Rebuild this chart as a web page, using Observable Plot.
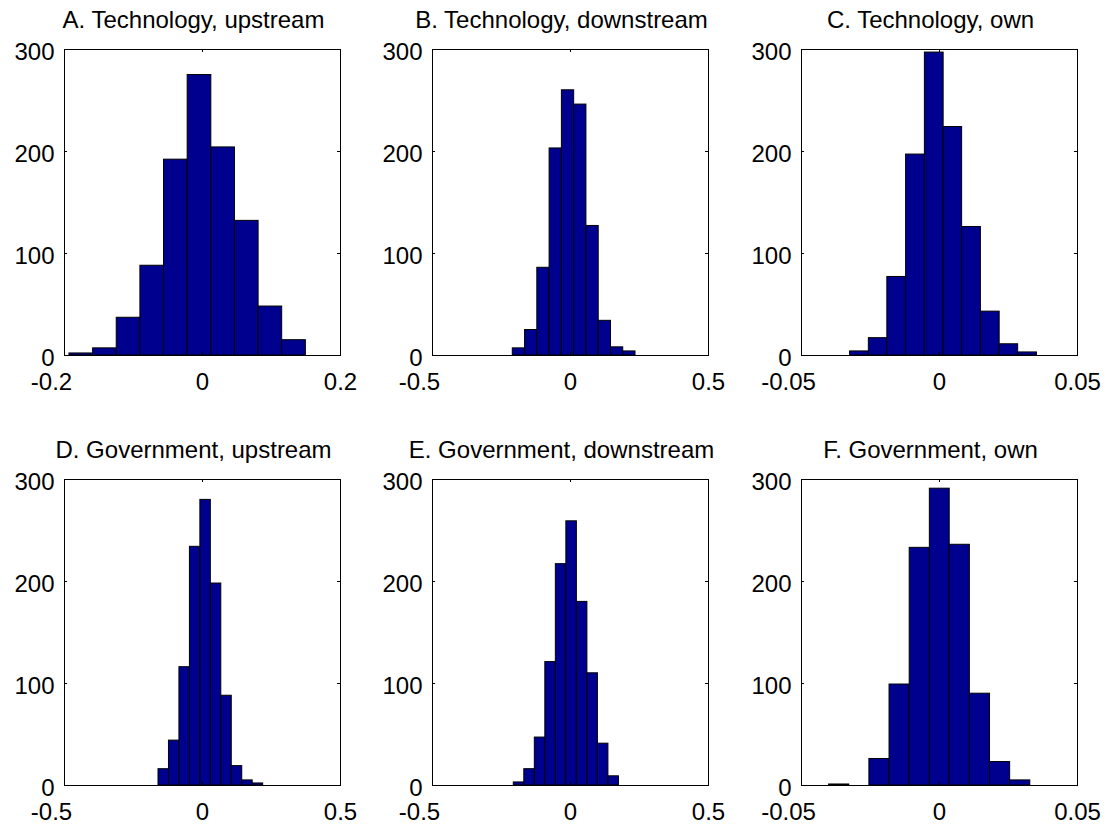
<!DOCTYPE html>
<html><head><meta charset="utf-8">
<script src="https://cdn.jsdelivr.net/npm/d3@7"></script>
<script src="https://cdn.jsdelivr.net/npm/@observablehq/plot@0.6"></script>
<style>
body{margin:0;background:#fff;}
#wrap{position:relative;width:1111px;height:825px;background:#fff;overflow:hidden;}
#wrap svg{position:absolute;}
</style></head><body><div id="wrap"></div>
<script>
// ---- data ----
const titles = [
  "A. Technology, upstream", "B. Technology, downstream", "C. Technology, own",
  "D. Government, upstream", "E. Government, downstream", "F. Government, own"
];
const edgesA = [-0.1928, -0.1585, -0.1243, -0.0900, -0.0558, -0.0215, 0.0128, 0.0470, 0.0813, 0.1155, 0.1498];
const countsA = [2, 7, 37, 88, 192, 275, 204, 132, 48, 15];
const edgesB = [-0.2091, -0.1646, -0.1202, -0.0757, -0.0312, 0.0133, 0.0577, 0.1022, 0.1467, 0.1911, 0.2356];
const countsB = [7, 25, 86, 203, 260, 246, 127, 34, 8, 4];
const edgesC = [-0.0324, -0.0256, -0.0189, -0.0121, -0.0053, 0.0015, 0.0082, 0.0150, 0.0218, 0.0285, 0.0353];
const countsC = [4, 17, 77, 197, 297, 224, 126, 43, 11, 3];
const edgesD = [-0.1594, -0.1215, -0.0836, -0.0456, -0.0077, 0.0302, 0.0681, 0.1060, 0.1440, 0.1819, 0.2198];
const countsD = [16, 44, 116, 234, 280, 198, 88, 19, 5, 2];
const edgesE = [-0.2055, -0.1674, -0.1293, -0.0912, -0.0531, -0.0150, 0.0231, 0.0612, 0.0993, 0.1374, 0.1755];
const countsE = [3, 16, 47, 121, 217, 259, 180, 110, 41, 9];
const edgesF = [-0.0400, -0.0327, -0.0254, -0.0181, -0.0108, -0.0035, 0.0037, 0.0110, 0.0183, 0.0256, 0.0329];
const countsF = [1, 0, 26, 99, 233, 291, 236, 90, 23, 5];
const xTicksWide = [-0.5, 0, 0.5];
const xTicksA = [-0.2, 0, 0.2];
const xTicksOwn = [-0.05, 0, 0.05];
const yTicks = [0, 100, 200, 300];

// ---- layout ----
const W = 370, H = 401, mL = 64, mR = 30, mT = 49, mB = 46;
const FW = W - mL - mR, FH = H - mT - mB;
const panels = [
  {title: titles[0], edges: edgesA, counts: countsA, ticks: xTicksA, left: 0, top: 0},
  {title: titles[1], edges: edgesB, counts: countsB, ticks: xTicksWide, left: 368, top: 0},
  {title: titles[2], edges: edgesC, counts: countsC, ticks: xTicksOwn, left: 737, top: 0},
  {title: titles[3], edges: edgesD, counts: countsD, ticks: xTicksWide, left: 0, top: 430},
  {title: titles[4], edges: edgesE, counts: countsE, ticks: xTicksWide, left: 368, top: 430},
  {title: titles[5], edges: edgesF, counts: countsF, ticks: xTicksOwn, left: 737, top: 430}
];
const FONT = 24;
const fmt = d => String(d);
const wrap = document.getElementById("wrap");

for (const p of panels) {
  const bins = p.counts.map((c, i) => ({x1: p.edges[i], x2: p.edges[i + 1], y: c}));
  const domain = [p.ticks[0], p.ticks[p.ticks.length - 1]];
  const neg = p.ticks.filter(t => t < 0);
  const nonneg = p.ticks.filter(t => t >= 0);
  const svg = Plot.plot({
    width: W, height: H,
    marginLeft: mL, marginRight: mR, marginTop: mT, marginBottom: mB,
    style: {fontFamily: "'Liberation Sans', Arial, sans-serif", fontSize: FONT + "px", color: "black", background: "white", overflow: "visible"},
    x: {domain, label: null},
    y: {domain: [0, 300], label: null},
    marks: [
      Plot.rectY(bins, {x1: "x1", x2: "x2", y: "y", fill: "#00008f", stroke: "black", strokeWidth: 1, inset: 0}),
      Plot.frame({stroke: "black", strokeWidth: 1}),
      Plot.tickX(p.ticks, {x: d => d, insetTop: FH - 3, stroke: "black"}),
      Plot.tickX(p.ticks, {x: d => d, insetBottom: FH - 3, stroke: "black"}),
      Plot.tickY(yTicks, {y: d => d, insetRight: FW - 3, stroke: "black"}),
      Plot.tickY(yTicks, {y: d => d, insetLeft: FW - 3, stroke: "black"}),
      Plot.axisX(nonneg, {tickSize: 0, tickPadding: 17, tickFormat: fmt, label: null, fontSize: FONT}),
      Plot.axisX(neg, {tickSize: 0, tickPadding: 17, tickFormat: fmt, label: null, fontSize: FONT, dx: -13}),
      Plot.axisY(yTicks, {tickSize: 0, tickPadding: 10, tickFormat: fmt, label: null, fontSize: FONT, dy: 3}),
      Plot.text([p.title], {frameAnchor: "top", text: d => d, dy: -22, dx: -9, lineAnchor: "bottom", fontSize: FONT, fill: "black"})
    ]
  });
  svg.style.left = p.left + "px";
  svg.style.top = p.top + "px";
  wrap.appendChild(svg);
}
</script></body></html>
